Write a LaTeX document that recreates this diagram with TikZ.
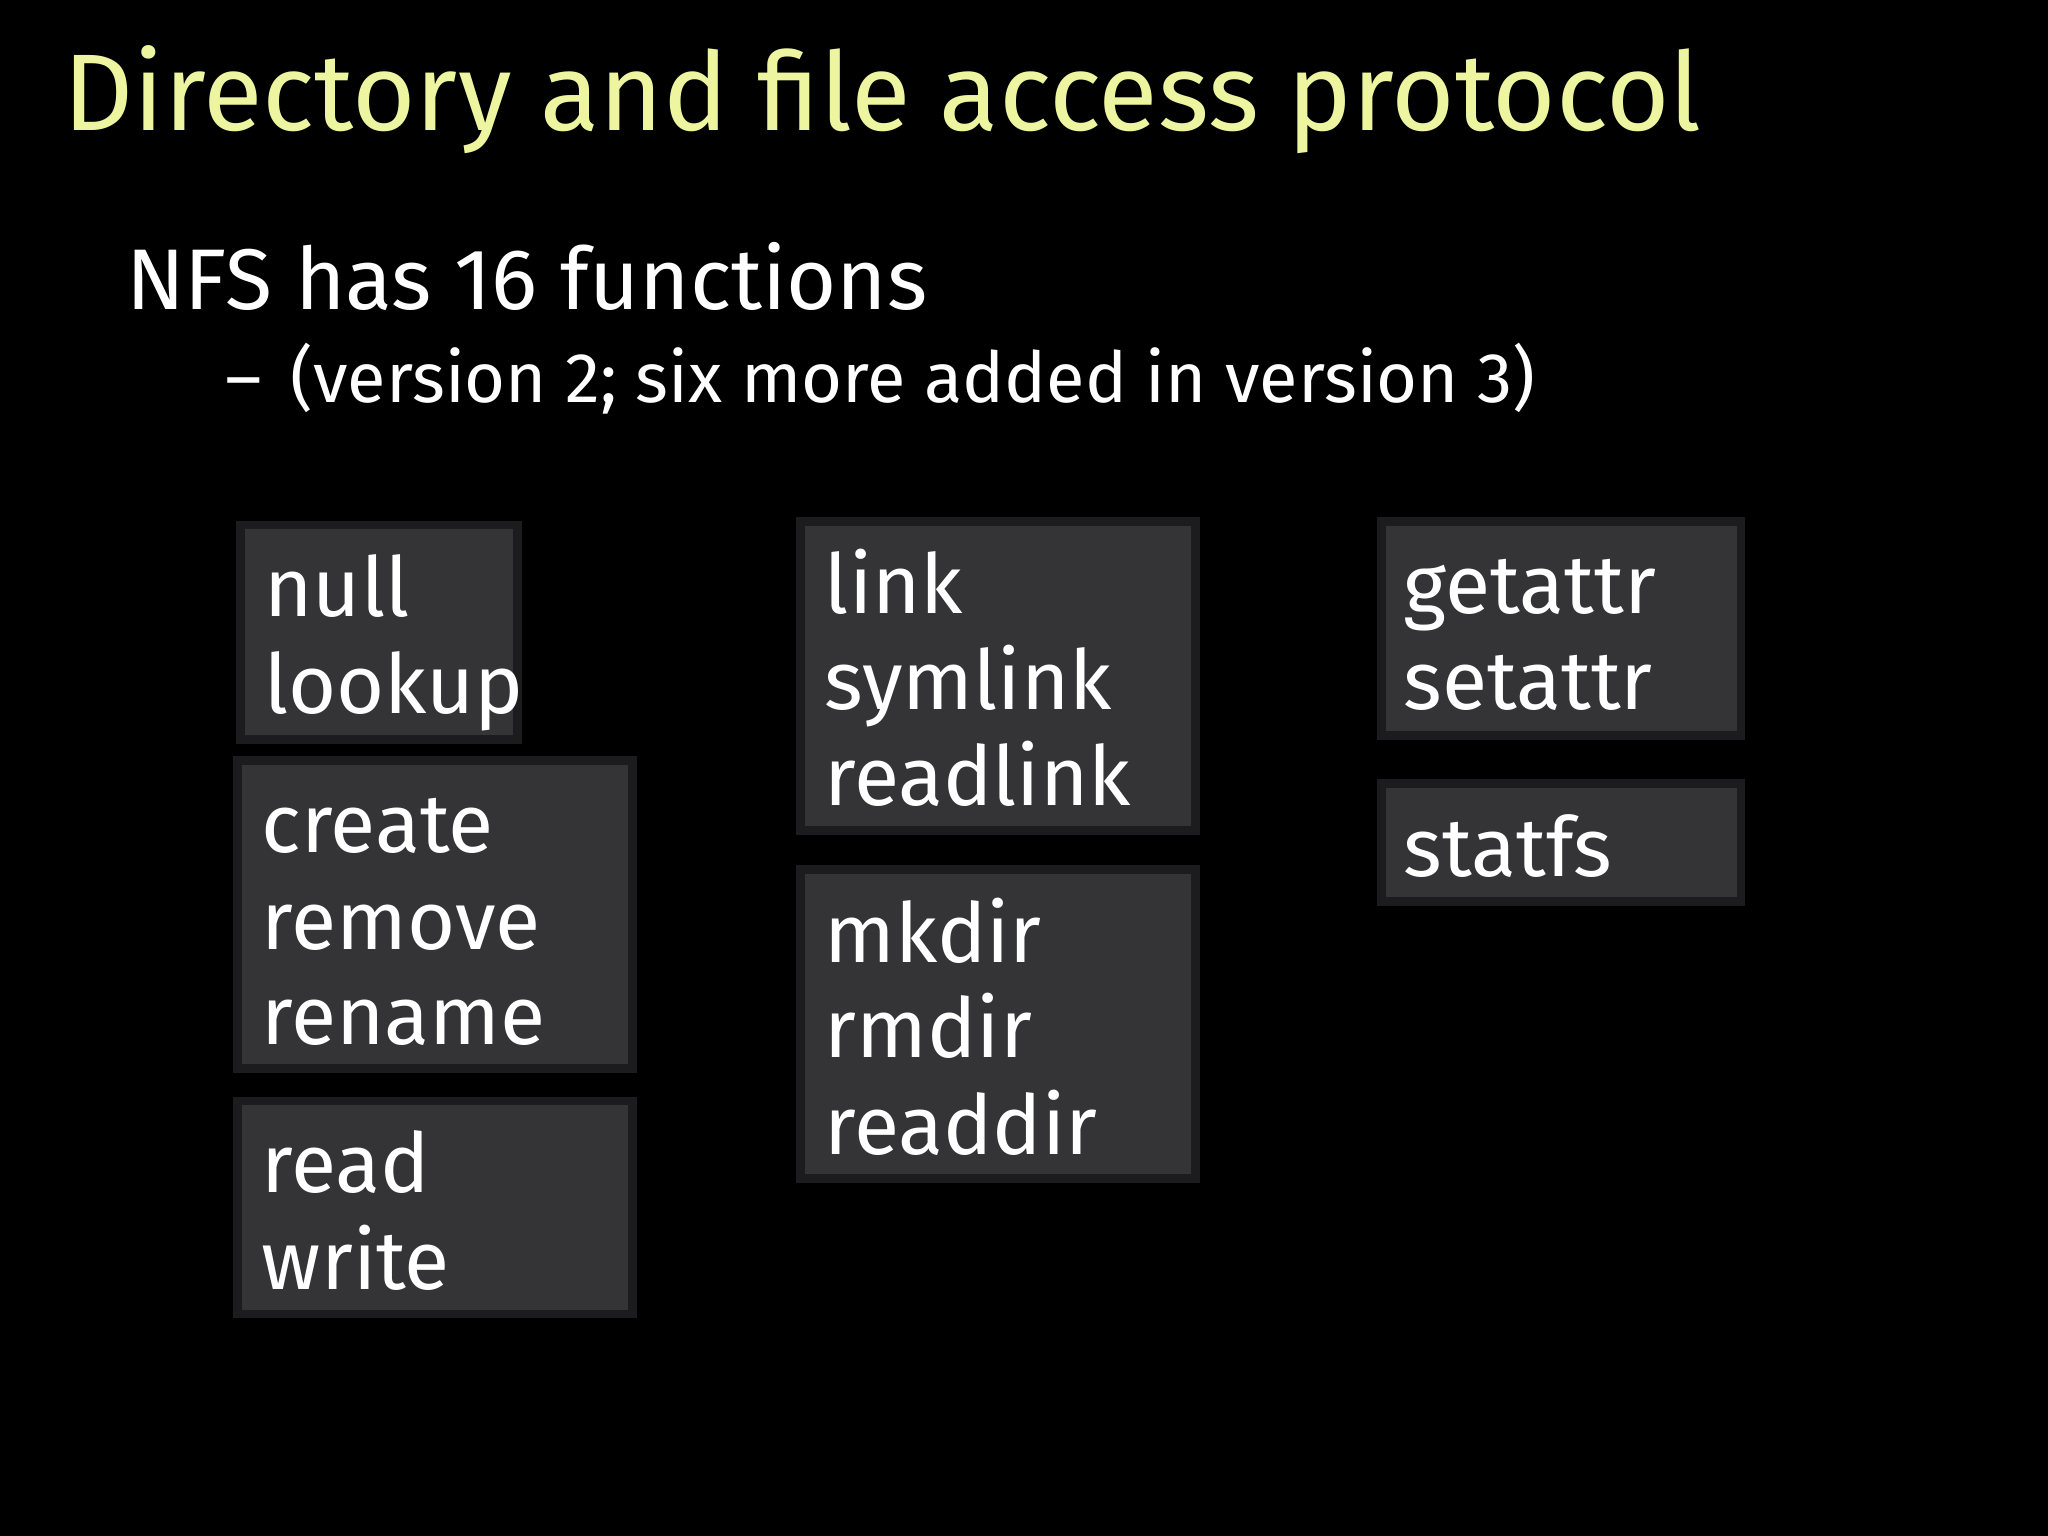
\documentclass[tikz,border=0pt]{standalone}
\usepackage{fontspec}
\setmainfont{Fira Sans}
\definecolor{boxgray}{HTML}{343336}
\definecolor{boxedge}{HTML}{1C1C1E}
\definecolor{titlecol}{HTML}{EEF5A0}
\tikzset{
  fbox/.style={draw=boxedge, line width=2.5pt, fill=boxgray},
  ftxt/.style={anchor=base west, text=white, font=\fontsize{23.5}{28}\selectfont, inner sep=0pt},
}
\begin{document}
\begin{tikzpicture}[x=0.01306cm,y=-0.01306cm]
\fill[black] (0,0) rectangle (1568,1176);
\useasboundingbox (0,0) rectangle (1568,1176);
\node[anchor=base west,inner sep=0pt,text=titlecol,font=\fontsize{31}{36}\selectfont] (title) at (48,100) {Directory and file access protocol};
\node[anchor=base west,inner sep=0pt,text=white,font=\fontsize{24.5}{30}\selectfont] (nfs) at (96,237) {NFS has 16 functions};
\node[anchor=base west,inner sep=0pt,text=white,font=\fontsize{20}{26}\selectfont] (dash) at (172,308) {–};
\node[anchor=base west,inner sep=0pt,text=white,font=\fontsize{20}{26}\selectfont] (ver) at (222,308) {(version 2; six more added in version 3)};
\draw[fbox] (184,402) rectangle (396,566);
\draw[fbox] (182,582) rectangle (484,818);
\draw[fbox] (182,843) rectangle (484,1006);
\draw[fbox] (613,399) rectangle (915,636);
\draw[fbox] (613,666) rectangle (915,902);
\draw[fbox] (1058,399) rectangle (1333,563);
\draw[fbox] (1058,600) rectangle (1333,690);
\node[ftxt] (n1) at (202,472) {null};
\node[ftxt] (n2) at (202,546) {lookup};
\node[ftxt] (c1) at (200,653) {create};
\node[ftxt] (c2) at (200,727) {remove};
\node[ftxt] (c3) at (200,800) {rename};
\node[ftxt] (r1) at (200,913) {read};
\node[ftxt] (r2) at (200,987) {write};
\node[ftxt] (l1) at (631,470) {link};
\node[ftxt] (l2) at (631,543) {symlink};
\node[ftxt] (l3) at (631,617) {readlink};
\node[ftxt] (m1) at (631,737) {mkdir};
\node[ftxt] (m2) at (631,810) {rmdir};
\node[ftxt] (m3) at (631,884) {readdir};
\node[ftxt] (g1) at (1074,470) {getattr};
\node[ftxt] (g2) at (1074,543) {setattr};
\node[ftxt] (s1) at (1074,671) {statfs};
\end{tikzpicture}
\end{document}
